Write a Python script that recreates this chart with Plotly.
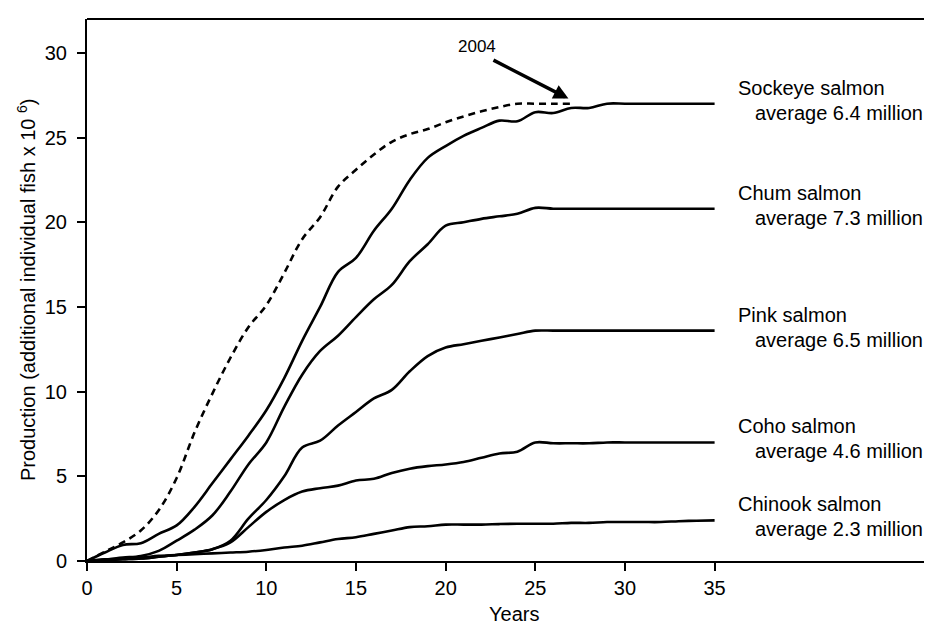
import plotly.graph_objects as go

years = list(range(0, 36))

sockeye_2004_years = list(range(0, 28))
sockeye_2004 = [0, 0.55, 1.1, 1.8, 3.0, 4.9, 7.6, 9.9, 12.0, 13.8, 15.1, 17.0, 19.0, 20.3,
                22.1, 23.1, 24.0, 24.75, 25.2, 25.5, 25.9, 26.25, 26.55, 26.8, 27.0, 27.0, 27.0, 27.0]

sockeye = [0, 0.5, 0.95, 1.05, 1.6, 2.1, 3.2, 4.6, 6.0, 7.4, 8.9, 10.8, 13.0, 15.0, 17.07,
           17.9, 19.5, 20.8, 22.5, 23.8, 24.5, 25.1, 25.57, 26.0, 25.96, 26.5, 26.45, 26.75,
           26.75, 27.0, 27.0, 27.0, 27.0, 27.0, 27.0, 27.0]
chum = [0, 0.08, 0.2, 0.3, 0.6, 1.2, 1.85, 2.7, 4.1, 5.7, 7.0, 9.1, 11.0, 12.4, 13.3, 14.4,
        15.45, 16.3, 17.7, 18.7, 19.8, 20.0, 20.2, 20.35, 20.5, 20.85, 20.8, 20.8, 20.8,
        20.8, 20.8, 20.8, 20.8, 20.8, 20.8, 20.8]
pink = [0, 0.05, 0.1, 0.15, 0.25, 0.35, 0.5, 0.7, 1.2, 2.5, 3.6, 5.0, 6.7, 7.1, 8.0, 8.8,
        9.6, 10.1, 11.2, 12.1, 12.6, 12.8, 13.0, 13.2, 13.4, 13.6, 13.6, 13.6, 13.6, 13.6,
        13.6, 13.6, 13.6, 13.6, 13.6, 13.6]
coho = [0, 0.05, 0.1, 0.15, 0.25, 0.35, 0.5, 0.7, 1.1, 2.0, 2.9, 3.6, 4.1, 4.3, 4.45, 4.75,
        4.85, 5.2, 5.45, 5.6, 5.7, 5.85, 6.1, 6.35, 6.45, 7.0, 6.95, 6.95, 6.95, 7.0, 7.0,
        7.0, 7.0, 7.0, 7.0, 7.0]
chinook = [0, 0.1, 0.15, 0.2, 0.3, 0.35, 0.4, 0.45, 0.5, 0.55, 0.65, 0.8, 0.9, 1.1, 1.3,
           1.4, 1.6, 1.8, 2.0, 2.05, 2.15, 2.15, 2.15, 2.18, 2.2, 2.2, 2.2, 2.25, 2.25, 2.3,
           2.3, 2.3, 2.3, 2.35, 2.38, 2.4]

species = ["Sockeye salmon", "Chum salmon", "Pink salmon", "Coho salmon", "Chinook salmon"]
averages = ["average 6.4 million", "average 7.3 million", "average 6.5 million",
            "average 4.6 million", "average 2.3 million"]
series = [sockeye, chum, pink, coho, chinook]

x_ticks = [0, 5, 10, 15, 20, 25, 30, 35]
y_ticks = [0, 5, 10, 15, 20, 25, 30]

FONT = "Liberation Sans, Arial, Helvetica, sans-serif"

fig = go.Figure()
fig.add_trace(go.Scatter(x=sockeye_2004_years, y=sockeye_2004, mode="lines",
                         line=dict(color="black", width=2.6, dash="7px,5px", shape="spline"),
                         showlegend=False, hoverinfo="skip"))
for s in series:
    fig.add_trace(go.Scatter(x=years, y=s, mode="lines",
                             line=dict(color="black", width=2.6, shape="spline"),
                             showlegend=False, hoverinfo="skip"))

annotations = []
for name, avg, s in zip(species, averages, series):
    yv = s[-1]
    annotations.append(dict(x=36.2, y=yv, xref="x", yref="y", text=name, showarrow=False,
                            xanchor="left", yanchor="middle", yshift=16,
                            font=dict(size=20, color="black", family=FONT)))
    annotations.append(dict(x=37.15, y=yv, xref="x", yref="y", text=avg, showarrow=False,
                            xanchor="left", yanchor="middle", yshift=-9,
                            font=dict(size=20, color="black", family=FONT)))

# 2004 label and arrow
annotations.append(dict(x=21.75, y=30.4, xref="x", yref="y", text="2004", showarrow=False,
                        xanchor="center", yanchor="middle",
                        font=dict(size=17, color="black", family=FONT)))
annotations.append(dict(x=26.85, y=27.3, xref="x", yref="y", text=" ", showarrow=True,
                        ax=-78, ay=-40, arrowhead=2, arrowsize=0.85, arrowwidth=3.5,
                        arrowcolor="black", font=dict(size=10)))

# axis titles
annotations.append(dict(x=-0.0715, y=0.5, xref="paper", yref="paper",
                        text="Production (additional individual fish x 10 <sup>6</sup>)",
                        textangle=-90, showarrow=False, xanchor="center", yanchor="middle",
                        font=dict(size=20, color="black", family=FONT)))
annotations.append(dict(x=0.5, y=-0.097, xref="paper", yref="paper", text="Years",
                        showarrow=False, xanchor="center", yanchor="middle",
                        font=dict(size=20, color="black", family=FONT)))

fig.update_layout(
    width=932, height=625,
    margin=dict(l=79, r=0, t=11, b=72),
    paper_bgcolor="white", plot_bgcolor="white",
    font=dict(family=FONT, size=20, color="black"),
    annotations=annotations,
    shapes=[dict(type="line", xref="paper", yref="paper", x0=0, x1=1, y0=1, y1=1,
                 line=dict(color="black", width=2))],
)
fig.update_xaxes(range=[0, 47.57], tickvals=x_ticks, ticktext=[str(v) for v in x_ticks],
                 showgrid=False, zeroline=False, showline=True, linecolor="black",
                 linewidth=2, ticks="outside", ticklen=8, tickwidth=2, tickcolor="black",
                 tickfont=dict(size=20, family=FONT, color="black"))
fig.update_yaxes(range=[0, 32], tickvals=y_ticks, ticktext=[str(v) for v in y_ticks],
                 showgrid=False, zeroline=False, showline=True, linecolor="black",
                 linewidth=2, ticks="outside", ticklen=8, tickwidth=2, tickcolor="black",
                 ticklabelstandoff=6,
                 tickfont=dict(size=20, family=FONT, color="black"))

fig.write_html("out.html")
